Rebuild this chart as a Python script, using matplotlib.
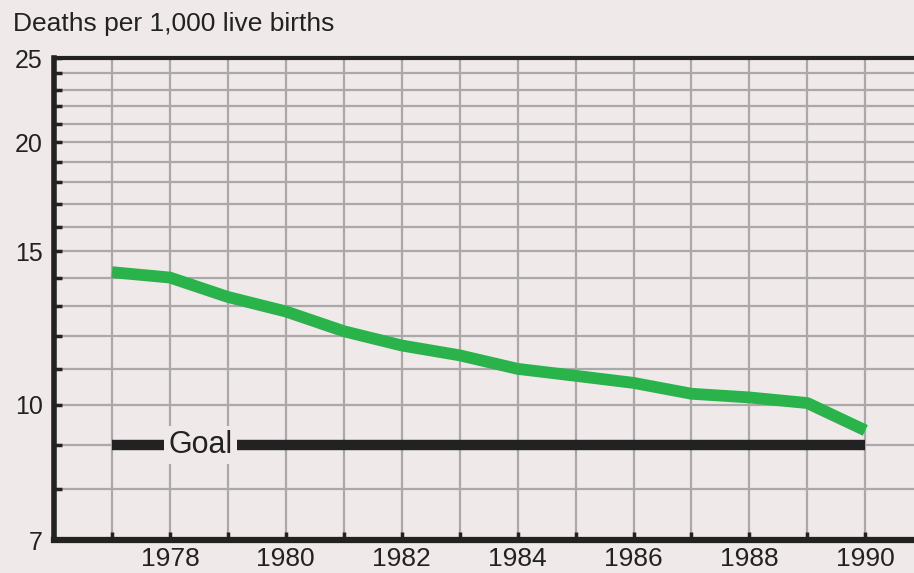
import numpy as np
import matplotlib
matplotlib.use("Agg")
import matplotlib.pyplot as plt
from matplotlib.ticker import FixedLocator, FixedFormatter, NullLocator

plt.rcParams['font.family'] = ['Liberation Sans', 'DejaVu Sans']

# data
years = [1977, 1978, 1979, 1980, 1981, 1982, 1983, 1984, 1985, 1986, 1987, 1988, 1989, 1990]
rate = [14.2, 14.0, 13.3, 12.8, 12.15, 11.7, 11.4, 11.0, 10.8, 10.6, 10.3, 10.2, 10.05, 9.35]
goal_years = [1977, 1990]
goal_value = [9.0, 9.0]
ytick_vals = list(range(7, 26))
ytick_shown = [7, 10, 15, 20, 25]
xtick_vals = list(range(1977, 1991))
xtick_shown = list(range(1978, 1991, 2))

bg = '#f0e9e9'
ink = '#222222'
fig = plt.figure(figsize=(9.14, 5.73), dpi=100, facecolor=bg)
ax = fig.add_axes([54 / 914, 33 / 573, 1 - 54 / 914, (540 - 58) / 573])
ax.set_facecolor(bg)

ax.set_yscale('log')
ax.set_ylim(7, 25)
ax.set_xlim(1976, 1990.84)

ax.yaxis.set_major_locator(FixedLocator(ytick_vals))
ax.yaxis.set_major_formatter(FixedFormatter([str(v) if v in ytick_shown else '' for v in ytick_vals]))
ax.yaxis.set_minor_locator(NullLocator())
ax.xaxis.set_major_locator(FixedLocator(xtick_vals))
ax.xaxis.set_major_formatter(FixedFormatter([str(v) if v in xtick_shown else '' for v in xtick_vals]))

ax.grid(True, color='#aaa8a8', linewidth=1.6, zorder=0)
ax.set_axisbelow(True)
ax.tick_params(axis='both', direction='in', length=6, width=2.5, color=ink, labelcolor=ink)
ax.tick_params(axis='y', pad=8, labelsize=18)
ax.tick_params(axis='x', pad=5, labelsize=19)

for side in ['left', 'bottom', 'top']:
    ax.spines[side].set_color(ink)
ax.spines['left'].set_linewidth(4)
ax.spines['bottom'].set_linewidth(4.5)
ax.spines['top'].set_linewidth(3)
ax.spines['right'].set_visible(False)

ax.plot(goal_years, goal_value, color=ink, linewidth=7.5, solid_capstyle='butt', zorder=3)
ax.text(1978.53, 9.0, 'Goal', fontsize=22, color=ink, ha='center', va='center', zorder=4,
        bbox=dict(facecolor=bg, edgecolor='none', pad=3))
ax.plot(years, rate, color='#2bb34b', linewidth=8.5, solid_capstyle='butt', solid_joinstyle='round', zorder=5)

fig.text(13 / 914, 1 - 12 / 573, 'Deaths per 1,000 live births', fontsize=19, color=ink,
         ha='left', va='top')

fig.savefig('out.png', dpi=100, facecolor=bg)
